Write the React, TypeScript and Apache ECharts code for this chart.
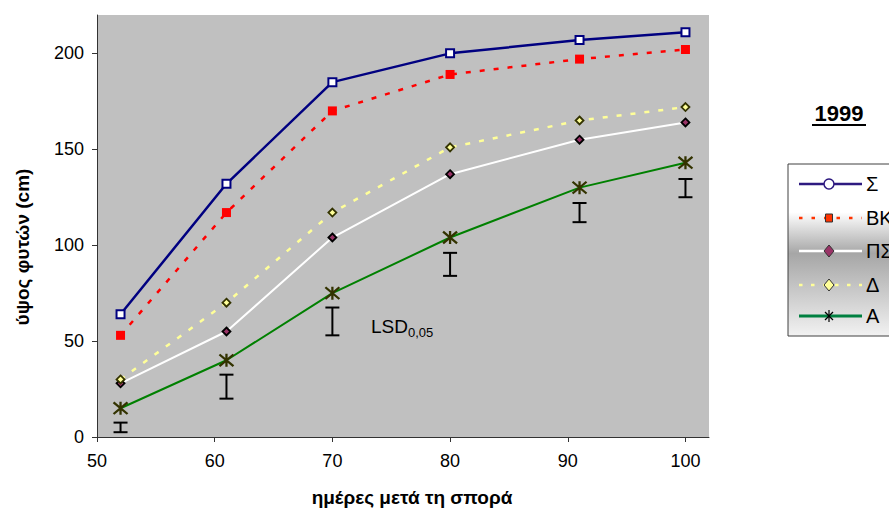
import React, { useEffect, useRef } from "react";
import * as echarts from "echarts";

const days = [52, 61, 70, 80, 91, 100];
const sigma = [64, 132, 185, 200, 207, 211];
const bk = [53, 117, 170, 189, 197, 202];
const ps = [28, 55, 104, 137, 155, 164];
const delta = [30, 70, 117, 151, 165, 172];
const alpha = [15, 40, 75, 104, 130, 143];
const lsdLow = [2.5, 20, 53, 84, 112, 125];
const lsdHigh = [7.5, 32.5, 67.5, 96, 122, 134.5];
const xTicks = [50, 60, 70, 80, 90, 100];
const yTicks = [0, 50, 100, 150, 200];
const legendNames = ["Σ", "ΒΚ", "ΠΣ", "Δ", "Α"];
const titleText = "1999";
const xName = "ημέρες μετά τη σπορά";
const yName = "ύψος φυτών (cm)";

const FONT = "'Liberation Sans', Arial, sans-serif";

const pairs = (ys: number[]) => days.map((d, i) => [d, ys[i]]);

export default function App() {
  const ref = useRef<HTMLDivElement>(null);
  useEffect(() => {
    document.body.style.margin = "0";
    const chart = echarts.init(ref.current!, null, { renderer: "svg" });

    const rowY = [184, 218, 251, 285, 316];
    const lx0 = 799, lx1 = 862, mx = 829, tx = 866;
    const legendGraphics: any[] = [
      {
        type: "rect",
        shape: { x: 788, y: 164, width: 130, height: 172 },
        style: {
          fill: new echarts.graphic.LinearGradient(0, 0, 0, 1, [
            { offset: 0, color: "#ffffff" },
            { offset: 0.28, color: "#ffffff" },
            { offset: 0.52, color: "#a6a6a6" },
            { offset: 1, color: "#f2f2f2" },
          ]),
          stroke: "#404040",
          lineWidth: 1,
        },
      },
    ];
    const lineStyles = [
      { stroke: "#2e1a80", lineWidth: 2.5 },
      { stroke: "#ff3300", lineWidth: 2.5, lineDash: [3.5, 9] },
      { stroke: "#ffffff", lineWidth: 2.5 },
      { stroke: "#ffff99", lineWidth: 2.5, lineDash: [3.5, 8.5] },
      { stroke: "#008040", lineWidth: 3 },
    ];
    legendNames.forEach((n, i) => {
      const y = rowY[i];
      legendGraphics.push({
        type: "line",
        shape: { x1: lx0, y1: y, x2: lx1, y2: y },
        style: lineStyles[i],
      });
      if (i === 0) {
        legendGraphics.push({
          type: "circle",
          shape: { cx: mx, cy: y, r: 5 },
          style: { fill: "#ffffff", stroke: "#2e1a80", lineWidth: 1.5 },
        });
      } else if (i === 1) {
        legendGraphics.push({
          type: "rect",
          shape: { x: mx - 3.5, y: y - 4, width: 7, height: 8 },
          style: { fill: "#ff3300", stroke: "#333333", lineWidth: 1 },
        });
      } else if (i === 2 || i === 3) {
        legendGraphics.push({
          type: "polygon",
          shape: { points: [[mx, y - 6], [mx + 5, y], [mx, y + 6], [mx - 5, y]] },
          style: { fill: i === 2 ? "#993366" : "#ffff99", stroke: "#333333", lineWidth: 1 },
        });
      } else {
        [
          [mx, y - 6, mx, y + 6],
          [mx - 4, y - 4, mx + 4, y + 4],
          [mx + 4, y - 4, mx - 4, y + 4],
        ].forEach(([a, b, c, d]) =>
          legendGraphics.push({
            type: "line",
            shape: { x1: a, y1: b, x2: c, y2: d },
            style: { stroke: "#000000", lineWidth: 1.2 },
          })
        );
      }
      legendGraphics.push({
        type: "text",
        x: tx,
        y: y,
        style: { text: n, font: `20px ${FONT}`, fill: "#000", verticalAlign: "middle", align: "left" },
      });
    });

    const option: any = {
      animation: false,
      backgroundColor: "#ffffff",
      grid: {
        left: 97,
        right: 180,
        top: 15,
        bottom: 72,
        show: true,
        backgroundColor: "#c0c0c0",
        borderWidth: 0,
      },
      xAxis: {
        type: "value",
        min: 50,
        max: 102,
        interval: 10,
        splitLine: { show: false },
        axisLine: { show: true, onZero: false, lineStyle: { color: "#333333", width: 1 } },
        axisTick: { show: true, length: 5, customValues: xTicks, lineStyle: { color: "#333333" } },
        axisLabel: {
          customValues: xTicks,
          margin: 15,
          fontSize: 18,
          fontFamily: FONT,
          color: "#000",
          formatter: (v: number) => (xTicks.includes(v) ? String(v) : ""),
        },
      },
      yAxis: {
        type: "value",
        min: 0,
        max: 220,
        interval: 50,
        splitLine: { show: false },
        axisLine: { show: true, onZero: false, lineStyle: { color: "#333333", width: 1 } },
        axisTick: { show: true, length: 5, customValues: yTicks, lineStyle: { color: "#333333" } },
        axisLabel: {
          customValues: yTicks,
          margin: 13,
          fontSize: 18,
          fontFamily: FONT,
          color: "#000",
          formatter: (v: number) => (yTicks.includes(v) ? String(v) : ""),
        },
      },
      series: [
        {
          name: "LSD",
          type: "custom",
          data: days.map((d, i) => [d, lsdLow[i], lsdHigh[i]]),
          encode: { x: 0, y: [1, 2] },
          z: 1,
          renderItem: (params: any, api: any) => {
            const x = api.value(0);
            const lo = api.coord([x, api.value(1)]);
            const hi = api.coord([x, api.value(2)]);
            const w = 7;
            const st = { stroke: "#000000", lineWidth: 2 };
            return {
              type: "group",
              children: [
                { type: "line", shape: { x1: lo[0], y1: lo[1], x2: hi[0], y2: hi[1] }, style: st },
                { type: "line", shape: { x1: lo[0] - w, y1: lo[1], x2: lo[0] + w, y2: lo[1] }, style: st },
                { type: "line", shape: { x1: hi[0] - w, y1: hi[1], x2: hi[0] + w, y2: hi[1] }, style: st },
              ],
            };
          },
        },
        {
          name: legendNames[4],
          type: "line",
          data: pairs(alpha),
          symbol: "path://M5,0L5,10M0,0.5L10,9.5M10,0.5L0,9.5",
          symbolSize: [14, 13],
          lineStyle: { color: "#008000", width: 2 },
          itemStyle: { color: "rgba(0,0,0,0)", borderColor: "#333300", borderWidth: 2.2 },
          z: 3,
        },
        {
          name: legendNames[2],
          type: "line",
          data: pairs(ps),
          symbol: "diamond",
          symbolSize: 8,
          lineStyle: { color: "#ffffff", width: 2 },
          itemStyle: { color: "#993366", borderColor: "#000000", borderWidth: 1.8 },
          z: 3,
        },
        {
          name: legendNames[3],
          type: "line",
          data: pairs(delta),
          symbol: "diamond",
          symbolSize: 8,
          lineStyle: { color: "#ffff99", width: 2.5, type: [5, 9] },
          itemStyle: { color: "#ffff99", borderColor: "#333300", borderWidth: 1.8 },
          z: 3,
        },
        {
          name: legendNames[1],
          type: "line",
          data: pairs(bk),
          symbol: "rect",
          symbolSize: 9,
          lineStyle: { color: "#ff0000", width: 2.5, type: [5, 9] },
          itemStyle: { color: "#ff0000", borderWidth: 0 },
          z: 3,
        },
        {
          name: legendNames[0],
          type: "line",
          data: pairs(sigma),
          symbol: "rect",
          symbolSize: 8,
          lineStyle: { color: "#000080", width: 2.5 },
          itemStyle: { color: "#ffffff", borderColor: "#000080", borderWidth: 2 },
          z: 4,
        },
      ],
      graphic: [
        {
          type: "text",
          x: 371,
          y: 326,
          style: { text: "LSD", font: `19px ${FONT}`, fill: "#000", verticalAlign: "middle", align: "left" },
        },
        {
          type: "text",
          x: 408,
          y: 332,
          style: { text: "0,05", font: `13px ${FONT}`, fill: "#000", verticalAlign: "middle", align: "left" },
        },
        {
          type: "text",
          x: 839,
          y: 113,
          style: { text: titleText, font: `bold 22px ${FONT}`, fill: "#000", verticalAlign: "middle", align: "center" },
        },
        {
          type: "line",
          shape: { x1: 812, y1: 125, x2: 866, y2: 125 },
          style: { stroke: "#000", lineWidth: 2 },
        },
        {
          type: "text",
          x: 412,
          y: 497,
          style: { text: xName, font: `bold 19px ${FONT}`, fill: "#000", verticalAlign: "middle", align: "center" },
        },
        {
          type: "text",
          x: 22,
          y: 247,
          rotation: Math.PI / 2,
          style: { text: yName, font: `bold 19px ${FONT}`, fill: "#000", verticalAlign: "middle", align: "center" },
        },
        ...legendGraphics,
      ],
    };
    chart.setOption(option);
    return () => chart.dispose();
  }, []);
  return (
    <div
      ref={ref}
      style={{ position: "fixed", left: 0, top: 0, width: 889, height: 509, background: "#fff" }}
    />
  );
}
